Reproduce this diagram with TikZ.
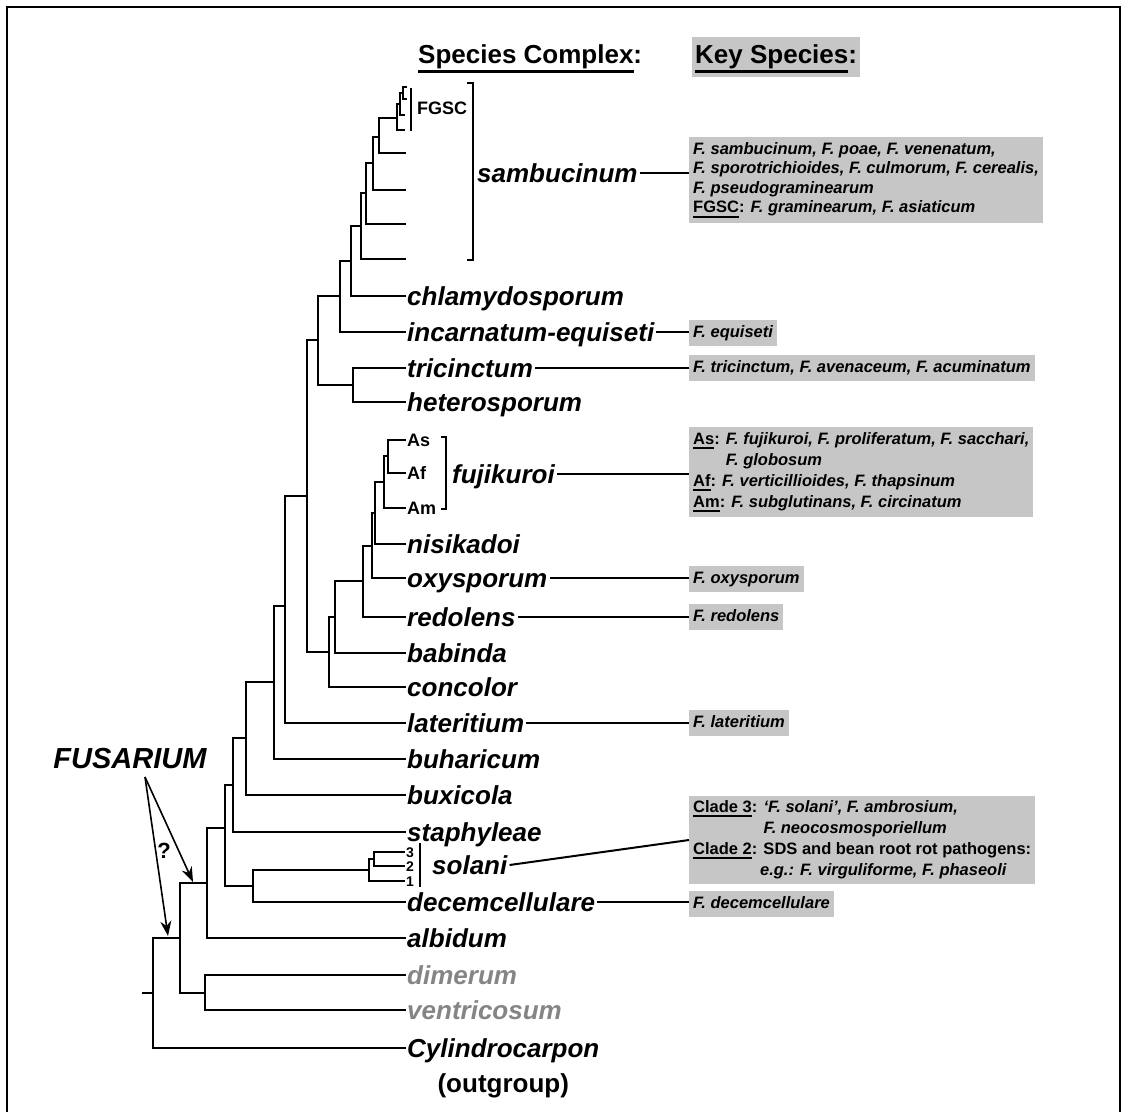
\documentclass[tikz,border=0pt]{standalone}
\usepackage{fontspec}
\setmainfont{Liberation Sans}
\usetikzlibrary{arrows.meta, positioning}
\definecolor{keyfill}{HTML}{C6C6C6}
\definecolor{faded}{HTML}{858585}
\newcommand{\undl}[2][0.28em]{\leavevmode\setbox0=\hbox{#2}\rlap{\rule[-#1]{\wd0}{0.12em}}\box0}

\begin{document}
\begin{tikzpicture}[x=1pt, y=-1pt,
  branch/.style={line width=2pt, line cap=rect},
  link/.style={line width=2pt},
  bracket/.style={line width=1.8pt},
  leaf/.style={anchor=west, inner xsep=2pt, inner ysep=0pt, text height=18pt, text depth=0pt,
    font=\fontsize{26}{28}\selectfont\bfseries\itshape},
  sublabel/.style={anchor=west, inner xsep=2pt, inner ysep=0pt, text height=13pt, text depth=0pt,
    font=\fontsize{18}{20}\selectfont\bfseries},
  numlabel/.style={anchor=west, inner xsep=2pt, inner ysep=0pt, text height=10pt, text depth=0pt,
    font=\fontsize{14}{14}\selectfont\bfseries},
  keybox/.style={anchor=west, fill=keyfill, inner xsep=4pt, inner ysep=5pt, align=left,
    font=\fontsize{16.5}{21}\selectfont\bfseries\itshape},
  keyone/.style={keybox, text height=12pt, text depth=4pt},
  pointer/.style={-{Stealth[length=15pt, width=11pt]}, line width=1.6pt},
]
\useasboundingbox (0,0) rectangle (1127,1112);
\draw[line width=2.4pt] (7,1112) -- (7,7) -- (1120,7) -- (1120,1112);

% headers
\node[anchor=base west, inner sep=0pt, font=\fontsize{26}{26}\selectfont\bfseries] (hdcx) at (418,63) {\undl[0.4em]{Species Complex}:};
\node[anchor=base west, fill=keyfill, inner xsep=3pt, inner ysep=7pt, text height=19pt, text depth=7pt,
  font=\fontsize{26}{26}\selectfont\bfseries] (hdks) at (692,63) {\undl[0.4em]{Key Species}:};

% internal nodes
\coordinate (fg2) at (403,93);
\coordinate (fg1) at (400,104);
\coordinate (fg0) at (397,118);
\coordinate (n1) at (379,137);
\coordinate (n2) at (373,163);
\coordinate (n3) at (366,193);
\coordinate (n4) at (361,226);
\coordinate (n5) at (351,261);
\coordinate (n6) at (340,296);
\coordinate (tr) at (353,385);
\coordinate (n7) at (318,340);
\coordinate (k1) at (388,456);
\coordinate (k2) at (384,482);
\coordinate (k3) at (375,513);
\coordinate (k4) at (372,546);
\coordinate (k5) at (363,581);
\coordinate (k6) at (335,617);
\coordinate (k7) at (329,652);
\coordinate (big) at (307,496);
\coordinate (la) at (285,606);
\coordinate (bu) at (274,682);
\coordinate (bx) at (246,738);
\coordinate (st) at (233,785);
\coordinate (so3) at (374,859);
\coordinate (so) at (369,870);
\coordinate (sd) at (253,886);
\coordinate (ab) at (225,828);
\coordinate (al) at (207,883);
\coordinate (dv) at (205,993);
\coordinate (fu) at (180,938);
\coordinate (rt) at (153,993);
\coordinate (stub) at (143,993);

% unlabelled tips
\coordinate (ta) at (406,87);
\coordinate (tb) at (406,99);
\coordinate (tc) at (404,115);
\coordinate (td) at (404,130);
\coordinate (s1) at (405,153);
\coordinate (s2) at (405,190);
\coordinate (s3) at (405,224);
\coordinate (s4) at (405,259);

% species complexes
\node[leaf] (chl) at (405,296) {chlamydosporum};
\node[leaf] (inc) at (405,332) {incarnatum-equiseti};
\node[leaf] (tri) at (405,368) {tricinctum};
\node[leaf] (het) at (405,402) {heterosporum};
\node[sublabel] (As) at (405,440) {As};
\node[sublabel] (Af) at (405,473) {Af};
\node[sublabel] (Am) at (405,508) {Am};
\node[leaf] (nis) at (405,544) {nisikadoi};
\node[leaf] (oxy) at (405,578) {oxysporum};
\node[leaf] (red) at (405,617) {redolens};
\node[leaf] (bab) at (405,653) {babinda};
\node[leaf] (con) at (405,687) {concolor};
\node[leaf] (lat) at (405,723) {lateritium};
\node[leaf] (buh) at (405,759) {buharicum};
\node[leaf] (bux) at (405,795) {buxicola};
\node[leaf] (sta) at (405,832) {staphyleae};
\node[numlabel] (c3) at (404,852) {3};
\node[numlabel] (c2) at (404,866) {2};
\node[numlabel] (c1) at (404,881) {1};
\node[leaf] (dec) at (405,902) {decemcellulare};
\node[leaf] (alb) at (405,938) {albidum};
\node[leaf, text=faded] (dim) at (405,975) {dimerum};
\node[leaf, text=faded] (ven) at (405,1010) {ventricosum};
\node[leaf] (cyl) at (405,1048) {Cylindrocarpon};
\node[leaf, anchor=north, below=17pt of cyl, font=\fontsize{26}{28}\selectfont\bfseries] (outg) {(outgroup)};

\node[sublabel] (fgsc) at (415,108) {FGSC};
\node[leaf] (sam) at (475,173) {sambucinum};
\node[leaf] (fuj) at (450,474) {fujikuroi};
\node[leaf] (sol) at (430,865) {solani};

% tree
\foreach \p/\c in {fg2/ta, fg2/tb, fg1/fg2, fg1/tc, fg0/fg1, fg0/td,
  n1/fg0, n1/s1, n2/n1, n2/s2, n3/n2, n3/s3, n4/n3, n4/s4, n5/n4, n5/chl.west,
  n6/n5, n6/inc.west, tr/tri.west, tr/het.west, n7/n6, n7/tr,
  k1/As.west, k1/Af.west, k2/k1, k2/Am.west, k3/k2, k3/nis.west, k4/k3, k4/oxy.west,
  k5/k4, k5/red.west, k6/k5, k6/bab.west, k7/k6, k7/con.west,
  big/n7, big/k7, la/big, la/lat.west, bu/la, bu/buh.west, bx/bu, bx/bux.west,
  st/bx, st/sta.west, so3/c3.west, so3/c2.west, so/so3, so/c1.west, sd/so, sd/dec.west,
  ab/st, ab/sd, al/ab, al/alb.west, fu/al, fu/dv, dv/dim.west, dv/ven.west,
  rt/fu, rt/cyl.west}
  \draw[branch] (\p) |- (\c);
\draw[branch] (stub) -- (rt);

% brackets
\draw[bracket] (411,88) -- (411,131);
\draw[bracket] (467,83) -- (473,83) -- (473,260) -- (467,260);
\draw[bracket] (441,437) -- (446,437) -- (446,509) -- (441,509);
\draw[bracket] (420,843) -- (420,887);

% key species
\node[keybox, font=\fontsize{16.5}{19.5}\selectfont\bfseries\itshape] (sambox) at (689,180) {F. sambucinum, F. poae, F. venenatum,\\
  F. sporotrichioides, F. culmorum, F. cerealis,\\
  F. pseudograminearum\\
  {\upshape\undl{FGSC}:} F. graminearum, F. asiaticum};
\node[keyone] (equbox) at (689,333) {F. equiseti};
\node[keyone] (tribox) at (689,368) {F. tricinctum, F. avenaceum, F. acuminatum};
\node[keybox] (fujbox) at (689,472) {{\upshape\undl{As}:} F. fujikuroi, F. proliferatum, F. sacchari,\\
  \leavevmode\hphantom{\upshape As: }F. globosum\\
  {\upshape\undl{Af}:} F. verticillioides, F. thapsinum\\
  {\upshape\undl{Am}:} F. subglutinans, F. circinatum};
\node[keyone] (oxybox) at (689,579) {F. oxysporum};
\node[keyone] (redbox) at (689,617) {F. redolens};
\node[keyone] (latbox) at (689,723) {F. lateritium};
\node[keybox] (solbox) at (689,840) {{\upshape\undl{Clade 3}:} `F. solani', F. ambrosium,\\
  \leavevmode\hphantom{\upshape Clade 3: }F. neocosmosporiellum\\
  {\upshape\undl{Clade 2}: SDS and bean root rot pathogens:}\\
  \leavevmode\hphantom{\upshape Clade 2:\,}e.g.: F. virguliforme, F. phaseoli};
\node[keyone] (decbox) at (689,904) {F. decemcellulare};

\draw[link] (sam.east) -- (sam.east -| sambox.west);
\draw[link] (inc.east) -- (inc.east -| equbox.west);
\draw[link] (tri.east) -- (tri.east -| tribox.west);
\draw[link] (fuj.east) -- (fuj.east -| fujbox.west);
\draw[link] (oxy.east) -- (oxy.east -| oxybox.west);
\draw[link] (red.east) -- (red.east -| redbox.west);
\draw[link] (lat.east) -- (lat.east -| latbox.west);
\draw[link] (sol.east) -- (solbox.west);
\draw[link] (dec.east) -- (dec.east -| decbox.west);

% genus
\node[font=\fontsize{29}{30}\selectfont\bfseries\itshape] (fus) at (130,759) {FUSARIUM};
\coordinate (fsrc) at (145,777);
\coordinate (tip1) at (193,882);
\coordinate (tip2) at (168,936);
\draw[pointer] (fsrc) -- (tip1);
\draw[pointer] (fsrc) -- (tip2);
\node[font=\fontsize{22}{22}\selectfont\bfseries] (qm) at (164,851) {?};
\end{tikzpicture}
\end{document}
